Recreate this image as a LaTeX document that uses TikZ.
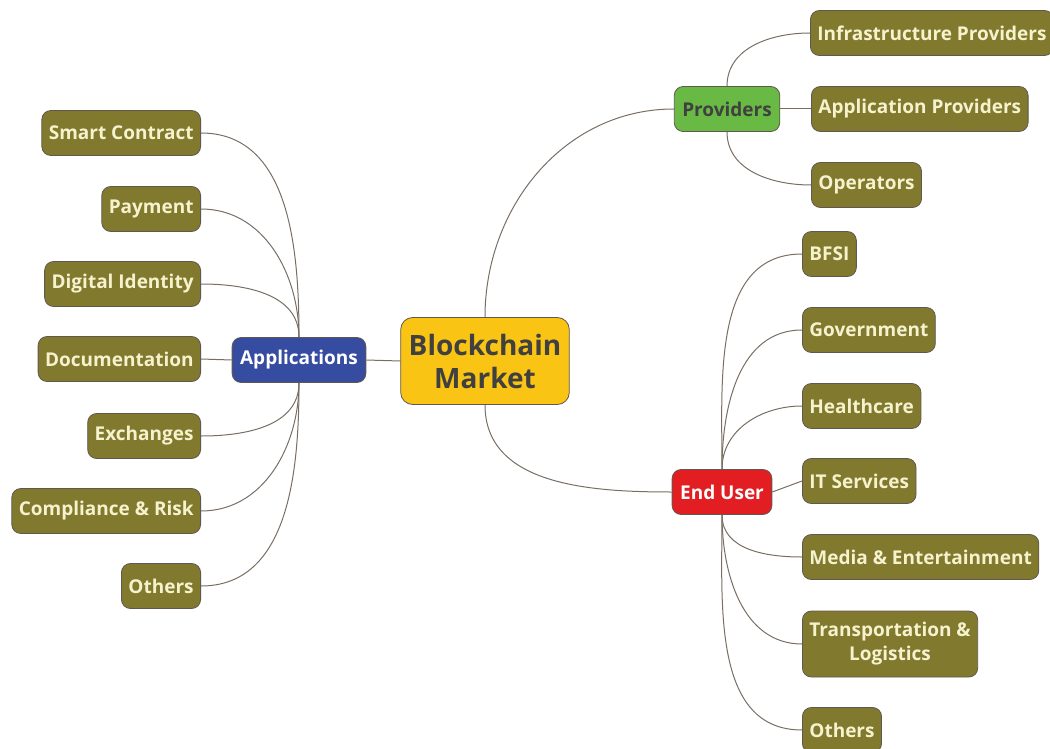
\documentclass[tikz,border=0pt]{standalone}
\usepackage{fontspec}
\setmainfont{Open Sans}
\usetikzlibrary{positioning}
\definecolor{leafc}{RGB}{128,121,46}
\definecolor{leaftxt}{RGB}{246,242,205}
\definecolor{edgec}{RGB}{120,110,100}
\definecolor{rootc}{RGB}{250,196,20}
\definecolor{appc}{RGB}{54,76,160}
\definecolor{provc}{RGB}{104,186,68}
\definecolor{userc}{RGB}{226,30,34}
\definecolor{darktxt}{RGB}{64,64,64}
\tikzset{
  every node/.style={font=\bfseries\fontsize{19}{24}\selectfont},
  box/.style={draw=edgec!80!black, line width=0.8pt, rounded corners=9pt,
    minimum height=45pt, inner xsep=7pt, align=center},
  leaf/.style={box, fill=leafc, text=leaftxt},
  branch/.style={box, inner xsep=8pt},
  root/.style={box, fill=rootc, text=darktxt, minimum height=87pt,
    inner xsep=8pt, rounded corners=12pt,
    font=\bfseries\fontsize{28}{33}\selectfont},
  link/.style={draw=edgec, line width=1pt},
}

\begin{document}
\begin{tikzpicture}[x=1pt,y=-1pt]
\useasboundingbox (0,0) rectangle (1050,749);
% centre and main branches
\node[root] (bm) at (485,361) {Blockchain\\Market};
\node[branch,fill=appc,text=white] (app) at (299,360) {Applications};
\node[branch,fill=provc,text=darktxt] (prov) at (727,109) {Providers};
\node[branch,fill=userc,text=white] (user) at (722,492) {End User};
% applications
\node[leaf,anchor=east] (sc) at (201,133) {Smart Contract};
\node[leaf,anchor=east] (pay) at (201,209) {Payment};
\node[leaf,anchor=east] (did) at (201,284) {Digital Identity};
\node[leaf,anchor=east] (doc) at (201,359) {Documentation};
\node[leaf,anchor=east] (exc) at (201,436) {Exchanges};
\node[leaf,anchor=east] (cr) at (201,511) {Compliance \& Risk};
\node[leaf,anchor=east] (aoth) at (201,586) {Others};
% providers
\node[leaf,anchor=west] (infra) at (810,33) {Infrastructure Providers};
\node[leaf,anchor=west] (appprov) at (811,109) {Application Providers};
\node[leaf,anchor=west] (oper) at (811,185) {Operators};
% end users
\node[leaf,anchor=west] (bfsi) at (802,254) {BFSI};
\node[leaf,anchor=west] (gov) at (802,330) {Government};
\node[leaf,anchor=west] (hc) at (802,406) {Healthcare};
\node[leaf,anchor=west] (its) at (802,481) {IT Services};
\node[leaf,anchor=west] (media) at (802,557) {Media \& Entertainment};
\node[leaf,anchor=west,minimum height=66pt] (trans) at (802,644) {Transportation \&\\Logistics};
\node[leaf,anchor=west] (uoth) at (802,730) {Others};

% connectors
\draw[link] (bm.west) -- (app.east);
\draw[link] (bm.north) to[out=90,in=180] (prov.west);
\draw[link] (bm.south) to[out=-90,in=180] (user.west);

\foreach \n in {sc,pay,did}
  \draw[link] (app.north) to[out=90,in=0] (\n.east);
\draw[link] (app.west) -- (doc.east);
\foreach \n in {exc,cr,aoth}
  \draw[link] (app.south) to[out=-90,in=0] (\n.east);

\draw[link] (prov.north) to[out=90,in=180] (infra.west);
\draw[link] (prov.east) -- (appprov.west);
\draw[link] (prov.south) to[out=-90,in=180] (oper.west);

\foreach \n in {bfsi,gov,hc}
  \draw[link] (user.north) to[out=90,in=180] (\n.west);
\draw[link] (user.east) -- (its.west);
\foreach \n in {media,trans,uoth}
  \draw[link] (user.south) to[out=-90,in=180] (\n.west);
\end{tikzpicture}
\end{document}
